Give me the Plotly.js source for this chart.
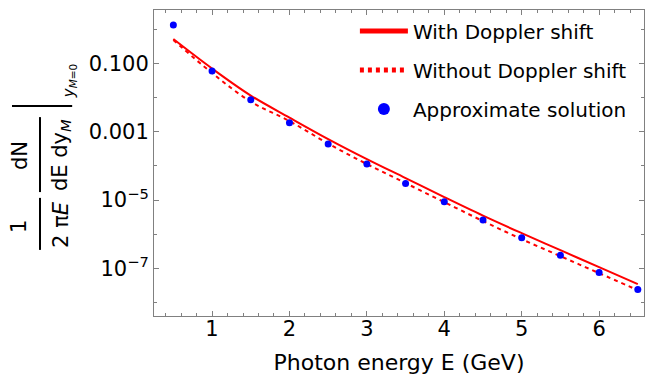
<!DOCTYPE html>
<html>
<head>
<meta charset="utf-8">
<script src="https://cdn.plot.ly/plotly-3.0.1.min.js"></script>
<style>
html,body{margin:0;padding:0;background:#fff;}
#chart{width:646px;height:379px;}
</style>
</head>
<body>
<div id="chart"></div>
<script>
// Photon energy E (GeV)
const energy = [0.5, 1, 1.5, 2, 2.5, 3, 3.5, 4, 4.5, 5, 5.5, 6, 6.5];
// With Doppler shift (solid)
const withDoppler = [0.514, 0.0705, 0.01143, 0.00259, 6.1e-4, 1.58e-4, 4.4e-5, 1.22e-5, 3.5e-6, 1.08e-6, 3.44e-7, 1.09e-7, 3.48e-8];
// Without Doppler shift (dashed)
const withoutDoppler = [0.481, 0.052, 0.0076, 0.00205, 4.5e-4, 1.13e-4, 3.14e-5, 8.7e-6, 2.43e-6, 7.2e-7, 2.29e-7, 7.3e-8, 2.32e-8];
// Approximate solution (dots)
const approx = [1.32, 0.0596, 0.0086, 0.00183, 4.35e-4, 1.13e-4, 3.08e-5, 8.9e-6, 2.6e-6, 7.9e-7, 2.45e-7, 7.6e-8, 2.43e-8];

const yTickVals = [0.1, 0.001, 1e-5, 1e-7];
const yTickText = ['0.100', '0.001', '10<sup>\u22125</sup>', '10<sup>\u22127</sup>'];
const yMinorVals = [1, 0.01, 1e-4, 1e-6, 1e-8];
const seriesNames = ['With Doppler shift', 'Without Doppler shift', 'Approximate solution'];

const FONT = 'DejaVu Sans, Verdana, sans-serif';
const AXC = '#808080';

const traces = [
  {x: energy, y: withDoppler, name: seriesNames[0], mode: 'lines', legendgroup: 'a',
   line: {color: '#ff0000', width: 2, shape: 'spline'}},
  {x: energy, y: withoutDoppler, name: seriesNames[1], mode: 'lines', legendgroup: 'b',
   line: {color: '#ff0000', width: 2, dash: '4px,4px', shape: 'spline'}},
  {x: energy, y: approx, name: seriesNames[2], mode: 'markers', legendgroup: 'c',
   marker: {color: '#0000ff', size: 7}}
];

const annFont = {family: FONT, size: 21, color: '#000'};
const layout = {
  width: 646, height: 379,
  margin: {l: 154, r: 2, t: 10, b: 63},
  paper_bgcolor: '#fff', plot_bgcolor: '#fff',
  font: {family: FONT, color: '#000'},
  showlegend: true,
  legend: {x: 0.41, y: 0.995, xanchor: 'left', yanchor: 'top', bgcolor: 'rgba(0,0,0,0)',
           font: {family: FONT, size: 20, color: '#000'}, itemsizing: 'constant',
           tracegroupgap: 10, traceorder: 'grouped', itemwidth: 48},
  xaxis: {range: [0.25, 6.58], showgrid: false, zeroline: false, showline: true,
          linecolor: AXC, linewidth: 1, mirror: 'allticks', ticks: 'inside', ticklen: 5,
          tickcolor: AXC, tick0: 0, dtick: 1, ticklabelstandoff: -6,
          minor: {ticks: 'inside', ticklen: 3, tickcolor: AXC, dtick: 0.2, tick0: 0, showgrid: false},
          tickfont: {family: FONT, size: 21, color: '#000'},
          title: {text: 'Photon energy E (GeV)', font: {family: FONT, size: 22, color: '#000'}, standoff: 14}},
  yaxis: {type: 'log', range: [-8.39, 0.56], showgrid: false, zeroline: false, showline: true,
          linecolor: AXC, linewidth: 1, mirror: 'allticks', ticks: 'inside', ticklen: 5,
          tickcolor: AXC, tickmode: 'array', tickvals: yTickVals, ticktext: yTickText,
          minor: {ticks: 'inside', ticklen: 3, tickcolor: AXC, tickmode: 'array', tickvals: yMinorVals, showgrid: false},
          tickfont: {family: FONT, size: 21, color: '#000'}},
  annotations: [
    {xref: 'paper', yref: 'paper', x: -0.2755, y: 0.291, text: '1', textangle: -90, showarrow: false,
     xanchor: 'center', yanchor: 'middle', font: annFont},
    {xref: 'paper', yref: 'paper', x: -0.1898, y: 0.301, text: '2 \u03c0<i>E</i>', textangle: -90, showarrow: false,
     xanchor: 'center', yanchor: 'middle', font: annFont},
    {xref: 'paper', yref: 'paper', x: -0.2735, y: 0.526, text: 'dN', textangle: -90, showarrow: false,
     xanchor: 'center', yanchor: 'middle', font: annFont},
    {xref: 'paper', yref: 'paper', x: -0.1898, y: 0.526, text: 'dE dy<sub><i>M</i></sub>', textangle: -90, showarrow: false,
     xanchor: 'center', yanchor: 'middle', font: annFont},
    {xref: 'paper', yref: 'paper', x: -0.171, y: 0.768, text: '<i>y</i><sub><i>M</i>=0</sub>', textangle: -90, showarrow: false,
     xanchor: 'center', yanchor: 'middle', font: {family: FONT, size: 15, color: '#000'}}
  ],
  shapes: [
    {type: 'line', xref: 'paper', yref: 'paper', x0: -0.2327, x1: -0.2327, y0: 0.216, y1: 0.386, line: {color: '#000', width: 2}},
    {type: 'line', xref: 'paper', yref: 'paper', x0: -0.2327, x1: -0.2327, y0: 0.405, y1: 0.650, line: {color: '#000', width: 2}},
    {type: 'line', xref: 'paper', yref: 'paper', x0: -0.2898, x1: -0.167, y0: 0.686, y1: 0.686, line: {color: '#000', width: 2}}
  ]
};

Plotly.newPlot('chart', traces, layout, {displayModeBar: false, staticPlot: true});
</script>
</body>
</html>
